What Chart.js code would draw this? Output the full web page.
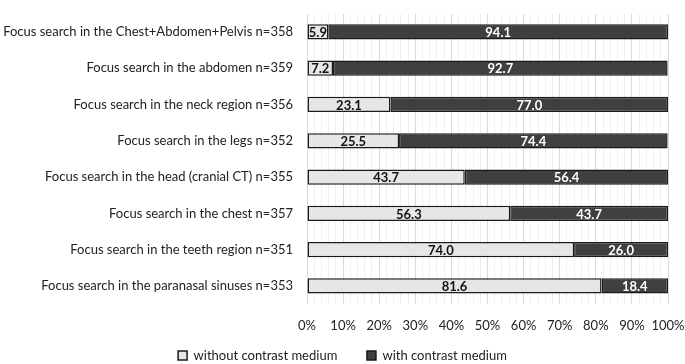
<!DOCTYPE html>
<html>
<head>
<meta charset="utf-8">
<script src="https://cdn.jsdelivr.net/npm/chart.js@4"></script>
<style>
  html, body { margin: 0; padding: 0; background: #fff; }
  #wrap { width: 685px; height: 364px; }
</style>
</head>
<body>
<div id="wrap"><canvas id="chart"></canvas></div>
<script>
  var categories = [
    'Focus search in the Chest+Abdomen+Pelvis n=358',
    'Focus search in the abdomen n=359',
    'Focus search in the neck region n=356',
    'Focus search in the legs n=352',
    'Focus search in the head (cranial CT) n=355',
    'Focus search in the chest n=357',
    'Focus search in the teeth region n=351',
    'Focus search in the paranasal sinuses n=353'
  ];
  var withoutContrast = [5.9, 7.2, 23.1, 25.5, 43.7, 56.3, 74.0, 81.6];
  var withContrast = [94.1, 92.7, 77.0, 74.4, 56.4, 43.7, 26.0, 18.4];
  var seriesNames = ['without contrast medium', 'with contrast medium'];

  var FONT = 'Lato';

  // draws the numbers in the middle of each bar segment
  var barLabels = {
    id: 'barLabels',
    afterDatasetsDraw: function (chart) {
      var ctx = chart.ctx;
      ctx.save();
      ctx.font = 'bold 13px ' + FONT;
      ctx.textAlign = 'center';
      ctx.textBaseline = 'middle';
      chart.data.datasets.forEach(function (ds, i) {
        var meta = chart.getDatasetMeta(i);
        meta.data.forEach(function (bar, j) {
          var p = bar.getCenterPoint();
          ctx.fillStyle = i === 0 ? '#111' : '#fff';
          ctx.fillText(ds.data[j].toFixed(1), p.x, p.y + 1);
        });
      });
      ctx.restore();
    }
  };

  new Chart(document.getElementById('chart'), {
    type: 'bar',
    data: {
      labels: categories,
      datasets: [
        {
          label: seriesNames[0],
          data: withoutContrast,
          backgroundColor: '#e6e6e6',
          borderColor: '#1a1a1a',
          borderWidth: 1.5,
          borderSkipped: false,
          barPercentage: 0.42,
          categoryPercentage: 1
        },
        {
          label: seriesNames[1],
          data: withContrast,
          backgroundColor: '#3f3f3f',
          borderColor: '#1a1a1a',
          borderWidth: 1.5,
          borderSkipped: false,
          barPercentage: 0.42,
          categoryPercentage: 1
        }
      ]
    },
    plugins: [barLabels],
    options: {
      indexAxis: 'y',
      responsive: true,
      maintainAspectRatio: false,
      animation: false,
      layout: { padding: { top: 1, right: 0, left: 0, bottom: -8 } },
      plugins: {
        legend: {
          position: 'bottom',
          labels: {
            color: '#222',
            boxWidth: 9,
            boxHeight: 9,
            padding: 3,
            font: { family: FONT, size: 13 },
            generateLabels: function (chart) {
              var items = Chart.defaults.plugins.legend.labels.generateLabels(chart);
              items[0].text = items[0].text + '        ';
              return items;
            }
          }
        },
        tooltip: { enabled: false }
      },
      scales: {
        x: {
          stacked: true,
          min: 0,
          max: 100,
          border: { display: false },
          grid: {
            drawTicks: false,
            color: function (c) {
              return c.tick && c.tick.value % 10 === 0 ? '#d9d9d9' : '#efefef';
            }
          },
          ticks: {
            stepSize: 2,
            autoSkip: false,
            maxRotation: 0,
            padding: 14,
            color: '#222',
            font: { family: FONT, size: 13 },
            callback: function (v) { return v % 10 === 0 ? v + '%' : ''; }
          },
          afterFit: function (s) { s.height = 42; s.paddingRight = 17; }
        },
        y: {
          stacked: true,
          border: { display: false },
          grid: { display: false },
          afterFit: function (s) { s.width = 307; },
          ticks: {
            padding: 6,
            color: '#222',
            font: { family: FONT, size: 13 }
          }
        }
      }
    }
  });
</script>
</body>
</html>
